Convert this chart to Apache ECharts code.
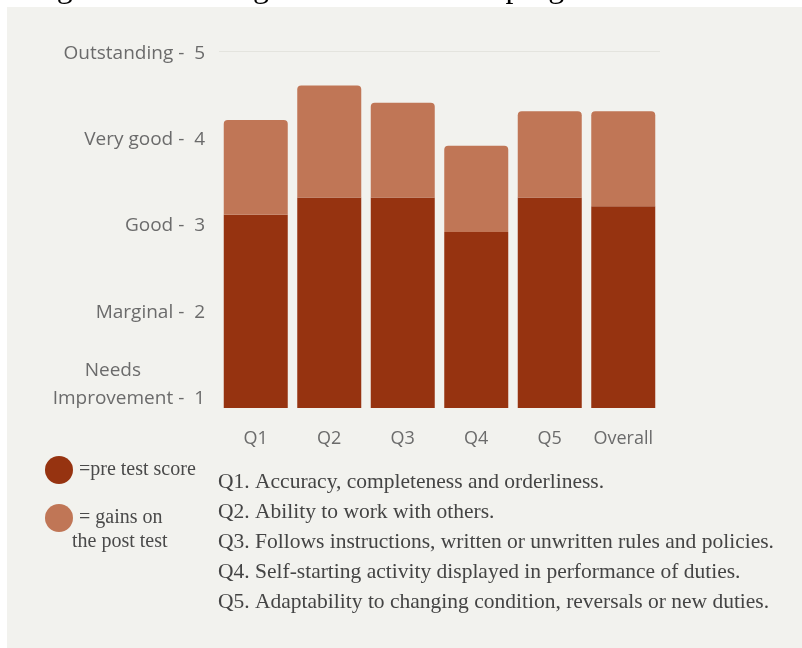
<!DOCTYPE html>
<html>
<head>
<meta charset="utf-8">
<script src="https://cdn.jsdelivr.net/npm/echarts@6/dist/echarts.min.js"></script>
<style>
html,body{margin:0;padding:0;background:#ffffff;}
#chart{width:802px;height:648px;}
</style>
</head>
<body>
<div id="chart"></div>
<script>
const categories = ['Q1', 'Q2', 'Q3', 'Q4', 'Q5', 'Overall'];
const preTest = [3.1, 3.3, 3.3, 2.9, 3.3, 3.2];
const gains = [1.1, 1.3, 1.1, 1.0, 1.0, 1.1];
const yTickValues = [1, 2, 3, 4, 5];
const yTickNames = ['Needs Improvement', 'Marginal', 'Good', 'Very good', 'Outstanding'];
const seriesNames = ['pre test score', 'gains on the post test'];
const legendLabels = ['=pre test score', '= gains on'];
const legendExtra = 'the post test';
const notes = [
  'Q1. Accuracy, completeness and orderliness.',
  'Q2. Ability to work with others.',
  'Q3. Follows instructions, written or unwritten rules and policies.',
  'Q4. Self-starting activity displayed in performance of duties.',
  'Q5. Adaptability to changing condition, reversals or new duties.'
];
const caption = 'Figure 2. Learning across the HRDS program';

const sans = '"Open Sans", sans-serif';
const serif = '"Liberation Serif", serif';

const chart = echarts.init(document.getElementById('chart'), null, {renderer: 'canvas'});
chart.setOption({
  backgroundColor: 'transparent',
  animation: false,
  grid: {left: 219, right: 142, top: 51, bottom: 240},
  xAxis: {
    type: 'category',
    data: categories,
    axisLine: {show: false},
    axisTick: {show: false},
    axisLabel: {interval: 0, color: '#6b6b6b', fontSize: 18, fontFamily: sans, margin: 22}
  },
  yAxis: {
    type: 'value',
    min: 0.86,
    max: 5,
    axisLine: {show: false},
    axisTick: {show: false},
    splitLine: {show: false},
    axisLabel: {
      customValues: yTickValues,
      color: '#6b6b6b',
      fontSize: 19,
      fontFamily: sans,
      margin: 14,
      lineHeight: 28,
      padding: [5, 0, 0, 0],
      formatter: function (v) {
        const i = yTickValues.indexOf(v);
        const name = yTickNames[i];
        if (i === 0) {
          const parts = name.split(' ');
          return '{n|' + parts[0] + '}{s|}\n' + parts[1] + ' -  ' + v + '\n ';
        }
        return name + ' -  ' + v;
      },
      rich: {
        n: {align: 'center', color: '#6b6b6b', fontSize: 19, fontFamily: sans, lineHeight: 28},
        s: {width: 32, align: 'right', fontSize: 19, lineHeight: 28}
      }
    }
  },
  legend: {
    orient: 'vertical',
    left: 40,
    top: 451,
    itemWidth: 30,
    itemHeight: 28,
    itemGap: 20,
    icon: 'circle',
    data: seriesNames,
    formatter: function (n) { return legendLabels[seriesNames.indexOf(n)]; },
    textStyle: {fontFamily: serif, fontSize: 20, color: '#4a4a4a'},
    selectedMode: false
  },
  graphic: [
    {type: 'text', left: 30, top: -27, z: -20,
      style: {text: caption, font: '32px "Liberation Serif", serif', fill: '#000'}},
    {type: 'rect', shape: {x: 7, y: 7, width: 800, height: 650}, z: -10,
      style: {fill: '#f2f2ee'}},
    {type: 'text', left: 72, top: 532,
      style: {text: legendExtra, font: '20px "Liberation Serif", serif', fill: '#4a4a4a'}},
    {type: 'text', left: 218, top: 467,
      style: {text: notes.join('\n'), font: '21.5px "Liberation Serif", serif', fill: '#444444', lineHeight: 30}}
  ],
  series: [
    {
      name: seriesNames[0], type: 'bar', stack: 'total', data: preTest,
      barWidth: 64,
      itemStyle: {color: '#963310'},
      markLine: {
        silent: true, symbol: 'none', label: {show: false},
        lineStyle: {color: '#e4e4de', width: 1, type: 'solid'},
        data: [{yAxis: 5}]
      }
    },
    {
      name: seriesNames[1], type: 'bar', stack: 'total', data: gains,
      barWidth: 64,
      itemStyle: {color: '#c07656', borderRadius: [4, 4, 0, 0]}
    }
  ]
});
</script>
</body>
</html>
